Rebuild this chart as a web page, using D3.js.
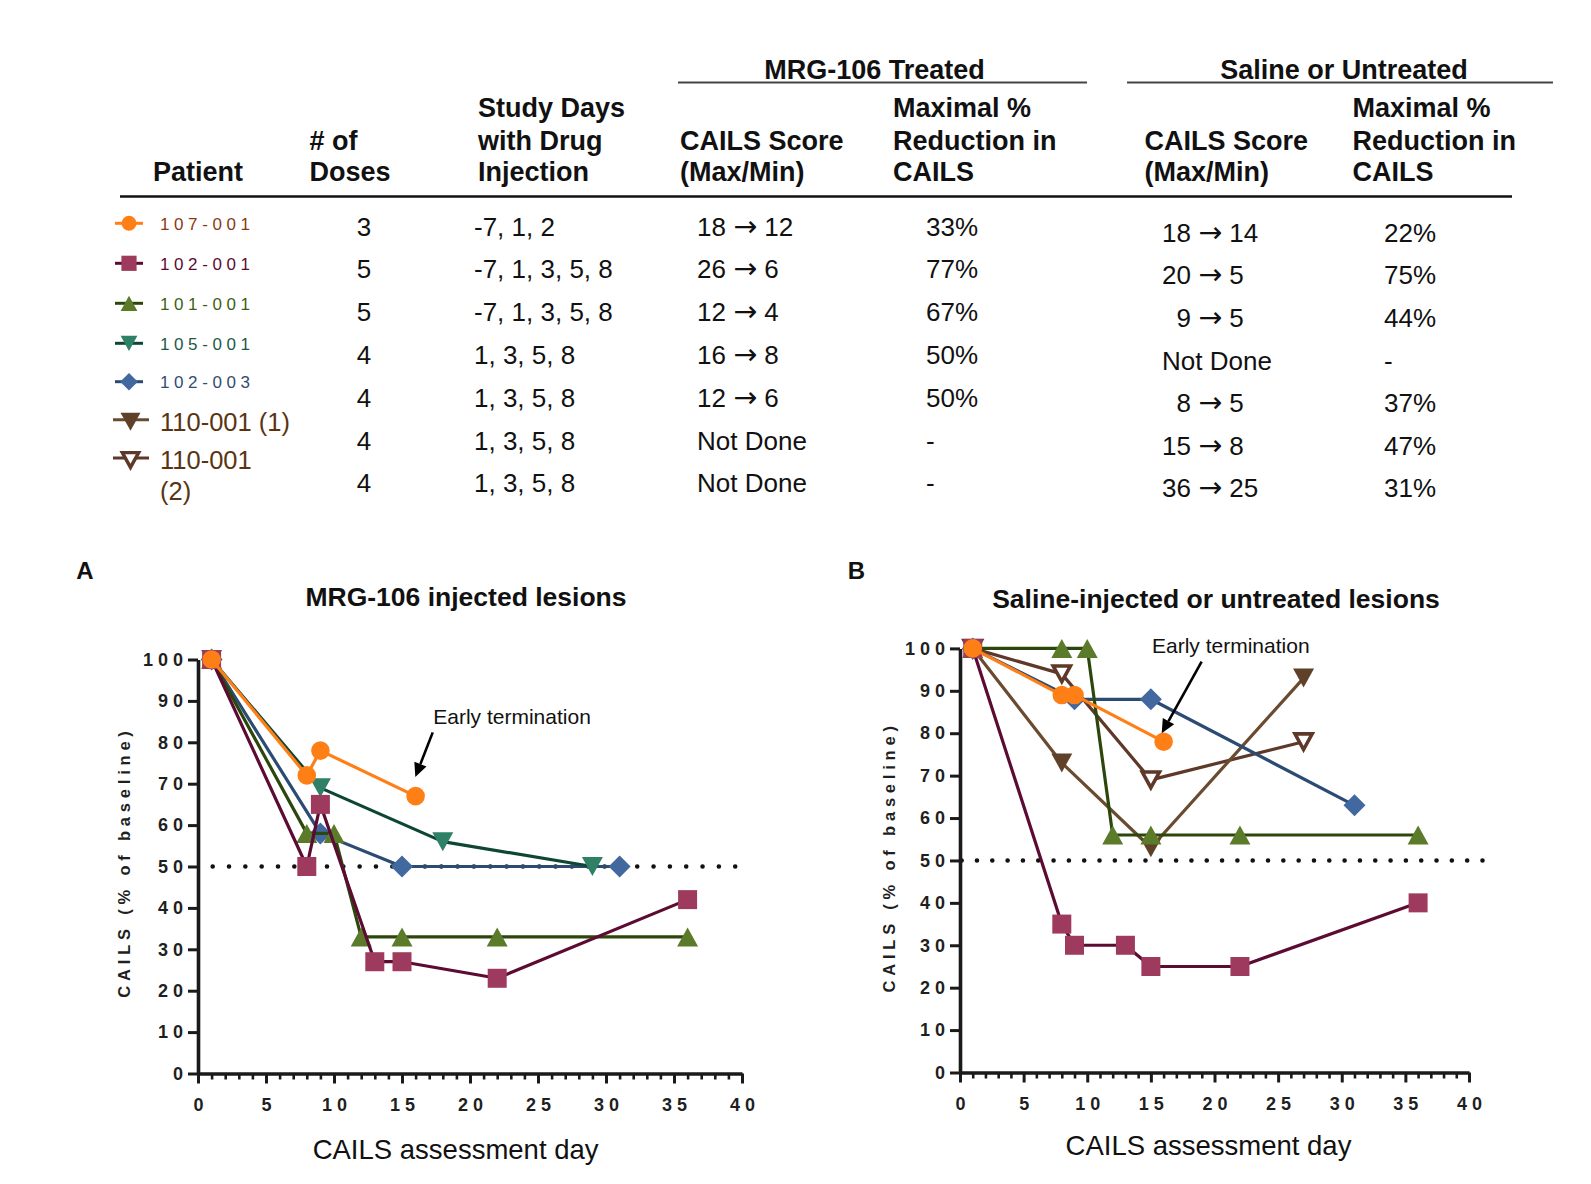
<!DOCTYPE html>
<html><head><meta charset="utf-8">
<script src="https://cdnjs.cloudflare.com/ajax/libs/d3/7.8.5/d3.min.js"></script>
<style>
html,body{margin:0;padding:0;background:#fff;}
svg{display:block;font-family:"Liberation Sans",Arial,Helvetica,sans-serif;}
</style></head><body>
<svg id="c" width="1591" height="1184"></svg>
<script>
// ================= DATA =================
const patients = ["107-001","102-001","101-001","105-001","102-003","110-001 (1)","110-001 (2)"];
const doses = ["3","5","5","4","4","4","4"];
const injectionDays = ["-7, 1, 2","-7, 1, 3, 5, 8","-7, 1, 3, 5, 8","1, 3, 5, 8","1, 3, 5, 8","1, 3, 5, 8","1, 3, 5, 8"];
const mrgScore = ["18 \u2192 12","26 \u2192 6","12 \u2192 4","16 \u2192 8","12 \u2192 6","Not Done","Not Done"];
const mrgReduction = ["33%","77%","67%","50%","50%","-","-"];
const salineScore = ["18 \u2192 14","20 \u2192 5","9 \u2192 5","Not Done","8 \u2192 5","15 \u2192 8","36 \u2192 25"];
const salineReduction = ["22%","75%","44%","-","37%","47%","31%"];
const colHeaders = [["Patient"],["# of","Doses"],["Study Days","with Drug","Injection"],["CAILS Score","(Max/Min)"],["Maximal %","Reduction in","CAILS"],["CAILS Score","(Max/Min)"],["Maximal %","Reduction in","CAILS"]];
const groupHeaders = ["MRG-106 Treated","Saline or Untreated"];

const xTicks = [0,5,10,15,20,25,30,35,40];
const yTicks = [0,10,20,30,40,50,60,70,80,90,100];
const referenceLevel = 50;

// Panel A: MRG-106 injected lesions
const aDays107 = [1,8,9,16];                 const aVals107 = [100,72,78,67];
const aDays102_1 = [1,8,9,13,15,22,36];      const aVals102_1 = [100,50,65,27,27,23,42];
const aDays101 = [1,8,10,12,15,22,36];       const aVals101 = [100,58,58,33,33,33,33];
const aDays105 = [1,9,18,29];                const aVals105 = [100,69,56,50];
const aDays102_3 = [1,9,15,31];              const aVals102_3 = [100,58,50,50];

// Panel B: Saline-injected or untreated lesions
const bDays107 = [1,8,9,16];                 const bVals107 = [100,89,89,78];
const bDays102_1 = [1,8,9,13,15,22,36];      const bVals102_1 = [100,35,30,30,25,25,40];
const bDays101 = [1,8,10,12,15,22,36];       const bVals101 = [100,100,100,56,56,56,56];
const bDays102_3 = [1,9,15,31];              const bVals102_3 = [100,88,88,63];
const bDays110_1 = [1,8,15,27];              const bVals110_1 = [100,73,53,93];
const bDays110_2 = [1,8,15,27];              const bVals110_2 = [100,94,69,78];

// ================= STYLES =================
const styles = {
  "107-001":    {shape:"circle",  fill:"#ff7f17", line:"#ff7f17", text:"#8b3a12"},
  "102-001":    {shape:"square",  fill:"#9e3a5e", line:"#5c0b32", text:"#5c0b32"},
  "101-001":    {shape:"tri",     fill:"#5b7b2a", line:"#2c470b", text:"#3d5f14"},
  "105-001":    {shape:"tridown", fill:"#2e8066", line:"#0e4636", text:"#1c5a47"},
  "102-003":    {shape:"diamond", fill:"#4169a0", line:"#2b4b73", text:"#2f4d72"},
  "110-001 (1)":{shape:"tridown", fill:"#5e4128", line:"#6b4b30", text:"#5a3412"},
  "110-001 (2)":{shape:"tridownOpen", fill:"#ffffff", line:"#5e3828", text:"#5a3412"}
};

function shapePath(shape, k){
  k = k || 1;
  if(shape==="circle"){ const r=9.3*k; return `M${-r},0A${r},${r} 0 1,0 ${r},0A${r},${r} 0 1,0 ${-r},0Z`; }
  if(shape==="square"){ const s=9.5*k; return `M${-s},${-s}H${s}V${s}H${-s}Z`; }
  if(shape==="tri"){ const w=10.5*k,h=9.5*k; return `M0,${-h}L${w},${h}L${-w},${h}Z`; }
  if(shape==="tridown"){ const w=10.5*k,h=9.5*k; return `M0,${h}L${w},${-h}L${-w},${-h}Z`; }
  if(shape==="tridownOpen"){ const w=8.6*k,h=7.8*k; return `M0,${h}L${w},${-h}L${-w},${-h}Z`; }
  if(shape==="diamond"){ const d=11*k; return `M0,${-d}L${d},0L0,${d}L${-d},0Z`; }
}
function drawMarker(g, shape, st, x, y, k){
  const p = g.append("path").attr("d", shapePath(shape,k)).attr("transform",`translate(${x},${y})`);
  if(shape==="tridownOpen"){
    p.attr("fill","#fff").attr("stroke",st.line).attr("stroke-width",3.6*(k||1)).attr("stroke-linejoin","miter");
  } else {
    p.attr("fill",st.fill);
  }
}

const svg = d3.select("#c");
const FONT = "'Liberation Sans',Arial,sans-serif";

// ================= TABLE =================
const hdrX = [153, 309.5, 478, 680, 893, 1144.5, 1352.5];
const hdrBase = [117, 149.5, 181];
colHeaders.forEach((lines,i)=>{
  const off = 3 - lines.length;
  lines.forEach((t,j)=>{
    svg.append("text").attr("x",hdrX[i]).attr("y",hdrBase[off+j])
      .attr("font-size",27).attr("font-weight","bold").attr("fill","#111").text(t);
  });
});
const grpCx = [874.5, 1344];
const grpLine = [[678,1087],[1127,1553]];
groupHeaders.forEach((t,i)=>{
  svg.append("text").attr("x",grpCx[i]).attr("y",79).attr("text-anchor","middle")
    .attr("font-size",27).attr("font-weight","bold").attr("fill","#111").text(t);
  svg.append("line").attr("x1",grpLine[i][0]).attr("x2",grpLine[i][1]).attr("y1",82.5).attr("y2",82.5)
    .attr("stroke","#444").attr("stroke-width",2);
});
svg.append("line").attr("x1",120).attr("x2",1512).attr("y1",196.5).attr("y2",196.5)
  .attr("stroke","#111").attr("stroke-width",2.5);

// measure a digit width
const meas = svg.append("text").attr("font-size",26).text("0");
const digitW = meas.node().getComputedTextLength();
meas.remove();

const rowBaseL = i => 235.6 + 42.78*i;
const rowBaseR = i => 241.7 + 42.6*i;
function bodyText(x,y,t,anchor){
  const el = svg.append("text").attr("x",x).attr("y",y).attr("font-size",26).attr("fill","#111")
    .attr("text-anchor",anchor||"start");
  const parts = t.split("\u2192");
  if(parts.length===2){
    el.append("tspan").text(parts[0]);
    el.append("tspan").attr("font-family","'DejaVu Sans',sans-serif").attr("font-size",28.5).attr("font-weight","normal").text("\u2192");
    el.append("tspan").text(parts[1]);
  } else el.text(t);
}
patients.forEach((p,i)=>{
  bodyText(364, rowBaseL(i), doses[i], "middle");
  bodyText(474, rowBaseL(i), injectionDays[i]);
  bodyText(697, rowBaseL(i), mrgScore[i]);
  bodyText(926, rowBaseL(i), mrgReduction[i]);
  const ss = salineScore[i];
  bodyText(1162 + (/^\d\s/.test(ss) ? digitW : 0), rowBaseR(i), ss);
  bodyText(1384, rowBaseR(i), salineReduction[i]);
});

// legend
const legY = [223.3, 263.3, 303.3, 343.3, 381.7, 421.7, 460];
patients.forEach((p,i)=>{
  const st = styles[p];
  const g = svg.append("g");
  if(i<5){
    g.append("line").attr("x1",115).attr("x2",143).attr("y1",legY[i]).attr("y2",legY[i]).attr("stroke",st.line).attr("stroke-width",3);
    drawMarker(g, st.shape, st, 129, legY[i], 0.8);
    g.append("text").attr("x",160).attr("y",legY[i]+6.2).attr("font-size",17).attr("letter-spacing","4.6px")
      .attr("fill",st.text).text(p);
  } else {
    g.append("line").attr("x1",113).attr("x2",149).attr("y1",legY[i]-2).attr("y2",legY[i]-2).attr("stroke",st.line).attr("stroke-width",3);
    drawMarker(g, st.shape, st, 130.5, legY[i], 0.95);
    if(i===5){
      g.append("text").attr("x",160).attr("y",legY[i]+9.2).attr("font-size",25.5).attr("fill",st.text).text(p);
    } else {
      const parts = p.split(" ");
      g.append("text").attr("x",160).attr("y",legY[i]+9.2).attr("font-size",25.5).attr("fill",st.text).text(parts[0]);
      g.append("text").attr("x",160).attr("y",legY[i]+39.5).attr("font-size",25.5).attr("fill",st.text).text(parts[1]);
    }
  }
});

// ================= CHARTS =================
function drawPanel(cfg){
  const x = d3.scaleLinear().domain([0,40]).range(cfg.xr);
  const y = d3.scaleLinear().domain([0,100]).range(cfg.yr);
  const g = svg.append("g");

  // reference dotted line
  const x1 = x(cfg.dot[0]), x2 = x(cfg.dot[1]);
  const n = Math.round((x2-x1)/cfg.dotGap);
  const gap = (x2-x1)/n;
  g.append("line").attr("x1",x1).attr("x2",x2).attr("y1",y(referenceLevel)).attr("y2",y(referenceLevel))
    .attr("stroke","#111").attr("stroke-width",4.6).attr("stroke-linecap","round")
    .attr("stroke-dasharray",`0,${gap}`);

  // series
  const line = d3.line().x(d=>x(d[0])).y(d=>y(d[1]));
  cfg.series.forEach(s=>{
    const st = styles[s.name];
    const pts = s.days.map((d,i)=>[d, s.vals[i]]);
    const sg = g.append("g");
    sg.append("path").attr("d", line(pts)).attr("fill","none").attr("stroke",st.line)
      .attr("stroke-width",3.2).attr("stroke-linejoin","round");
    pts.forEach(p=> drawMarker(sg, st.shape, st, x(p[0]), y(p[1]), 1));
  });

  // axes
  const minor = d3.range(0,41).filter(v=>v%5!==0);
  const ax = g.append("g").attr("transform",`translate(0,${cfg.yr[0]})`);
  ax.call(d3.axisBottom(x).tickValues(minor).tickSize(6).tickSizeOuter(0).tickFormat(""));
  ax.select(".domain").remove();
  ax.selectAll("line").attr("stroke","#1a1a1a").attr("stroke-width",2.6);
  const axM = g.append("g").attr("transform",`translate(0,${cfg.yr[0]})`);
  axM.call(d3.axisBottom(x).tickValues(xTicks).tickSize(10).tickSizeOuter(0).tickPadding(15));
  axM.select(".domain").attr("stroke","#1a1a1a").attr("stroke-width",3.6);
  axM.selectAll("line").attr("stroke","#1a1a1a").attr("stroke-width",3);
  axM.selectAll("text").attr("font-family",FONT).attr("font-size",18).attr("font-weight","bold")
    .attr("letter-spacing","5px").attr("dx",2.5).attr("fill","#1f1f1f");

  const ay = g.append("g").attr("transform",`translate(${cfg.xr[0]},0)`);
  ay.call(d3.axisLeft(y).tickValues(yTicks).tickSize(10).tickSizeOuter(0).tickPadding(5));
  ay.select(".domain").attr("stroke","#1a1a1a").attr("stroke-width",3.6);
  ay.selectAll("line").attr("stroke","#1a1a1a").attr("stroke-width",3);
  ay.selectAll("text").attr("font-family",FONT).attr("font-size",18).attr("font-weight","bold")
    .attr("letter-spacing","5px").attr("dx",5).attr("fill","#1f1f1f");

  // titles
  svg.append("text").attr("x",cfg.letter[0]).attr("y",cfg.letter[1]).attr("text-anchor","middle")
    .attr("font-size",24).attr("font-weight","bold").attr("fill","#111").text(cfg.letterText);
  svg.append("text").attr("x",cfg.title[0]).attr("y",cfg.title[1]).attr("text-anchor","middle")
    .attr("font-size",26.5).attr("font-weight","bold").attr("fill","#111").text(cfg.titleText);
  svg.append("text").attr("x",cfg.xt[0]).attr("y",cfg.xt[1]).attr("text-anchor","middle")
    .attr("font-size",27.5).attr("fill","#111").text("CAILS assessment day");
  svg.append("text").attr("transform",`translate(${cfg.yt[0]},${cfg.yt[1]}) rotate(-90)`)
    .attr("text-anchor","middle").attr("dx",2.5).attr("font-size",16.5).attr("font-weight","bold")
    .attr("letter-spacing","4.8px").attr("fill","#1f1f1f").text("CAILS (% of baseline)");

  // annotation
  const a = cfg.ann;
  svg.append("text").attr("x",x(a.text[0])).attr("y",y(a.text[1])).attr("font-size",21).attr("fill","#111").text("Early termination");
  const sx=x(a.from[0]), sy=y(a.from[1]), tx=x(a.to[0]), ty=y(a.to[1]);
  const ang = Math.atan2(ty-sy, tx-sx);
  const hl = 14, hw = 6.5;
  const bx = tx - hl*Math.cos(ang), by = ty - hl*Math.sin(ang);
  svg.append("line").attr("x1",sx).attr("y1",sy).attr("x2",bx).attr("y2",by).attr("stroke","#000").attr("stroke-width",2.6);
  const px = -Math.sin(ang), py = Math.cos(ang);
  svg.append("path").attr("d",`M${tx},${ty}L${bx+hw*px},${by+hw*py}L${bx-hw*px},${by-hw*py}Z`).attr("fill","#000");
}

drawPanel({
  xr:[198,742], yr:[1073.5,659.5], dot:[1.08,39.5], dotGap:16.3,
  series:[
    {name:"102-003", days:aDays102_3, vals:aVals102_3},
    {name:"105-001", days:aDays105, vals:aVals105},
    {name:"101-001", days:aDays101, vals:aVals101},
    {name:"102-001", days:aDays102_1, vals:aVals102_1},
    {name:"107-001", days:aDays107, vals:aVals107}
  ],
  letter:[85,579], letterText:"A",
  title:[466,606], titleText:"MRG-106 injected lesions",
  xt:[455.6,1159], yt:[130,864.5],
  ann:{text:[17.3,84.5], from:[17.26,82.4], to:[15.98,71.6]}
});
drawPanel({
  xr:[960,1469], yr:[1072.5,648.4], dot:[0.13,41.06], dotGap:15.2,
  series:[
    {name:"110-001 (2)", days:bDays110_2, vals:bVals110_2},
    {name:"110-001 (1)", days:bDays110_1, vals:bVals110_1},
    {name:"102-003", days:bDays102_3, vals:bVals102_3},
    {name:"101-001", days:bDays101, vals:bVals101},
    {name:"102-001", days:bDays102_1, vals:bVals102_1},
    {name:"107-001", days:bDays107, vals:bVals107}
  ],
  letter:[856.5,579], letterText:"B",
  title:[1216,608], titleText:"Saline-injected or untreated lesions",
  xt:[1208.5,1155], yt:[895,859.4],
  ann:{text:[15.09,99.0], from:[18.99,96.9], to:[15.85,79.98]}
});
</script>
</body></html>
